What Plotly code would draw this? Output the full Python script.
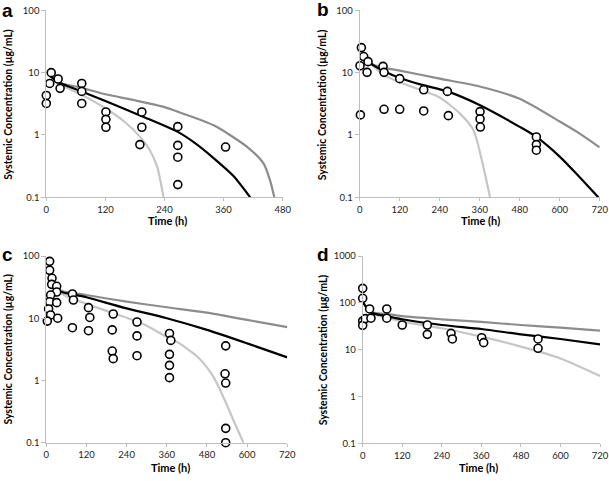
import plotly.graph_objects as go

W, H = 609, 481

# ---------------- Observed data (time h, concentration ug/mL) ----------------
a_obs_t = [0, 0, 7, 10, 24, 28, 72, 72, 72, 121, 121, 121, 190, 194, 194, 267, 267, 267, 267, 364]
a_obs_c = [4.3, 3.2, 6.7, 10, 7.9, 5.6, 6.7, 5.0, 3.2, 2.34, 1.78, 1.33, 0.70, 2.34, 1.33, 1.36, 0.68, 0.44, 0.16, 0.64]

b_obs_t = [5, 1, 12, 25, 22, 2, 70, 73, 73, 120, 120, 192, 192, 263, 266, 361, 361, 362, 530, 530, 530]
b_obs_c = [25.2, 12.9, 18.1, 15, 10.1, 2.1, 12.6, 10.1, 2.58, 8.0, 2.58, 5.3, 2.43, 5.0, 2.04, 2.37, 1.81, 1.34, 0.93, 0.70, 0.57]

c_obs_t = [10, 10, 17, 16, 31, 31, 13, 10, 31, 7, 13, 3, 34, 78, 81, 78, 126, 130, 126,
           200, 197, 197, 200, 271, 271, 271, 368, 372, 368, 368, 368, 536, 534, 536, 536, 536]
c_obs_c = [82, 59, 43.8, 35, 32.6, 26.4, 23.6, 18.4, 17.8, 14.1, 11.3, 9.0, 10, 24.5, 19.6, 7.05, 14.8, 10.3, 6.3,
           11.7, 6.5, 2.97, 2.24, 8.7, 5.2, 2.5, 5.7, 4.4, 2.63, 1.75, 1.11, 3.6, 1.28, 0.91, 0.17, 0.1]

d_obs_t = [0, 0, 0, 0, 8, 21, 25, 73, 73, 120, 196, 196, 268, 272, 361, 367, 532, 532]
d_obs_c = [204, 125, 41, 33, 46, 74, 47, 74, 47, 33.6, 33.6, 21.2, 22.3, 16.9, 18, 14.1, 16.9, 10.7]

# ---------------- Model curves ----------------
a_mid_t = [8, 28, 72, 120, 194, 267, 300, 339, 380, 414]
a_mid_c = [8.8, 6.8, 5.0, 3.5, 2.0, 1.12, 0.76, 0.43, 0.22, 0.1]
a_hi_t = [8, 28, 72, 120, 180, 240, 271, 339, 407, 441, 454, 463]
a_hi_c = [8.8, 6.9, 5.7, 4.5, 3.6, 2.8, 2.3, 1.44, 0.65, 0.35, 0.19, 0.1]
a_lo_t = [8, 28, 72, 120, 160, 190, 210, 225, 238]
a_lo_c = [8.8, 6.5, 4.4, 2.68, 1.6, 0.94, 0.575, 0.31, 0.1]

b_mid_t = [10, 40, 72, 120, 190, 263, 361, 480, 530, 600, 660, 716]
b_mid_c = [17, 13.2, 10.6, 8.2, 6.3, 5.0, 3.0, 1.35, 0.93, 0.45, 0.21, 0.1]
b_hi_t = [10, 40, 72, 120, 240, 360, 480, 600, 660, 720]
b_hi_c = [17, 13.5, 12, 10.8, 8.0, 6.0, 3.8, 1.64, 1.05, 0.63]
b_lo_t = [10, 40, 72, 120, 200, 240, 301, 341, 366, 391]
b_lo_c = [17, 12.8, 9.2, 7.0, 4.9, 4.0, 2.2, 1.2, 0.40, 0.1]

c_mid_t = [8, 34, 120, 240, 360, 480, 600, 720]
c_mid_c = [52, 28.4, 21.7, 14.4, 10, 6.5, 3.95, 2.35]
c_hi_t = [8, 34, 120, 240, 360, 480, 600, 720]
c_hi_c = [52, 29, 23.6, 18.5, 15.0, 12.3, 9.4, 7.2]
c_lo_t = [8, 34, 120, 240, 300, 360, 399, 459, 499, 532, 559, 589]
c_lo_c = [52, 27, 17, 10.2, 7.6, 5.0, 3.9, 2.2, 1.15, 0.5, 0.23, 0.1]

d_mid_t = [2, 25, 72, 120, 240, 360, 480, 600, 720]
d_mid_c = [100, 62, 52, 44.5, 33.6, 27.6, 21.2, 16.9, 13]
d_hi_t = [2, 25, 72, 120, 240, 360, 480, 600, 720]
d_hi_c = [100, 64, 58, 52, 44.5, 39, 33.6, 29.5, 25.5]
d_lo_t = [2, 25, 72, 120, 240, 360, 480, 600, 720]
d_lo_c = [100, 60, 48, 39.6, 28.6, 19, 11.6, 6.5, 2.74]

x_ticks_a = [0, 120, 240, 360, 480]
x_ticks = [0, 120, 240, 360, 480, 600, 720]
y_ticks_3 = [0.1, 1, 10, 100]
y_ticks_4 = [0.1, 1, 10, 100, 1000]
y_title = "Systemic Concentration (µg/mL)"
x_title = "Time (h)"
panel_letters = ["a", "b", "c", "d"]

# ---------------- styles ----------------
FONT = "Lato"
BLACK = "#000000"
DARK = "#8c8c8c"
LIGHT = "#c6c6c6"
AXC = "#bdbdbd"


def px_x(p):
    return p / W


def px_y(p):
    return 1 - p / H


panels = [
    dict(obs=(a_obs_t, a_obs_c), curves=[(a_hi_t, a_hi_c, DARK), (a_lo_t, a_lo_c, LIGHT), (a_mid_t, a_mid_c, BLACK)],
         xd=(46.3, 282.7), yd=(10.3, 197.3), xr=[0, 480], yr=[-1, 2], xt=x_ticks_a, yt=y_ticks_3),
    dict(obs=(b_obs_t, b_obs_c), curves=[(b_hi_t, b_hi_c, DARK), (b_lo_t, b_lo_c, LIGHT), (b_mid_t, b_mid_c, BLACK)],
         xd=(359.7, 599.7), yd=(10.3, 197.3), xr=[0, 720], yr=[-1, 2], xt=x_ticks, yt=y_ticks_3),
    dict(obs=(c_obs_t, c_obs_c), curves=[(c_hi_t, c_hi_c, DARK), (c_lo_t, c_lo_c, LIGHT), (c_mid_t, c_mid_c, BLACK)],
         xd=(46.3, 287.3), yd=(256, 442.7), xr=[0, 720], yr=[-1, 2], xt=x_ticks, yt=y_ticks_3),
    dict(obs=(d_obs_t, d_obs_c), curves=[(d_hi_t, d_hi_c, DARK), (d_lo_t, d_lo_c, LIGHT), (d_mid_t, d_mid_c, BLACK)],
         xd=(362.7, 600), yd=(256, 443.3), xr=[0, 720], yr=[-1, 3], xt=x_ticks, yt=y_ticks_4),
]

fig = go.Figure()
layout = {}
for i, p in enumerate(panels):
    n = "" if i == 0 else str(i + 1)
    xa, ya = "x" + n, "y" + n
    for t, c, col in p["curves"]:
        fig.add_trace(go.Scatter(x=t, y=c, mode="lines", xaxis=xa, yaxis=ya,
                                 line=dict(color=col, width=2.2, shape="spline", smoothing=0.7),
                                 showlegend=False, hoverinfo="skip"))
    fig.add_trace(go.Scatter(x=p["obs"][0], y=p["obs"][1], mode="markers", xaxis=xa, yaxis=ya,
                             marker=dict(symbol="circle", size=8, color="white",
                                         line=dict(color="black", width=1.6)),
                             showlegend=False, cliponaxis=False))
    layout["xaxis" + n] = dict(domain=[px_x(p["xd"][0]), px_x(p["xd"][1])], range=p["xr"],
                               anchor=ya, tickvals=p["xt"], ticktext=[str(v) for v in p["xt"]],
                               showline=True, linecolor=AXC, linewidth=1, ticks="outside", ticklen=3,
                               tickcolor=AXC, showgrid=False, automargin=False, ticklabeloverflow="allow",
                               zeroline=False, tickfont=dict(family=FONT, size=9.5, color="#222"))
    layout["yaxis" + n] = dict(domain=[px_y(p["yd"][1]), px_y(p["yd"][0])], range=p["yr"], type="log",
                               anchor=xa, tickvals=p["yt"], ticktext=[("%g" % v) for v in p["yt"]],
                               showline=True, linecolor=AXC, linewidth=1, ticks="outside", ticklen=4,
                               tickcolor=AXC, showgrid=False, zeroline=False, automargin=False,
                               ticklabeloverflow="allow",
                               tickfont=dict(family=FONT, size=9.5, color="#222"))

annotations = []
xt_pos = [(167, 220), (480, 220), (170, 467.7), (478.3, 467.7)]
yt_pos = [(8.3, 104.5), (322.7, 104.5), (8.3, 349.3), (322.7, 349.6)]
letter_pos = [(0, 10.5), (315, 9.5), (0, 254), (315, 254)]
for i in range(4):
    annotations.append(dict(text=x_title, x=px_x(xt_pos[i][0]), y=px_y(xt_pos[i][1]), xref="paper", yref="paper",
                            showarrow=False, xanchor="center", yanchor="middle",
                            font=dict(family=FONT, size=11, color="black", weight="bold")))
    annotations.append(dict(text=y_title, x=px_x(yt_pos[i][0]), y=px_y(yt_pos[i][1]), xref="paper", yref="paper",
                            showarrow=False, xanchor="center", yanchor="middle", textangle=-90,
                            font=dict(family=FONT, size=10.5, color="black", weight="bold")))
    annotations.append(dict(text=panel_letters[i], x=px_x(letter_pos[i][0]), y=px_y(letter_pos[i][1]),
                            xref="paper", yref="paper", showarrow=False, xanchor="left", yanchor="middle",
                            font=dict(family="Liberation Sans", size=19, color="black", weight="bold")))

fig.update_layout(template="none", width=W, height=H, margin=dict(l=0, r=0, t=0, b=0, autoexpand=False),
                  paper_bgcolor="white", plot_bgcolor="white", annotations=annotations, **layout)
fig.write_html("out.html", config={"displayModeBar": False},
               post_script="document.body.style.margin='0';document.body.style.padding='0';")
